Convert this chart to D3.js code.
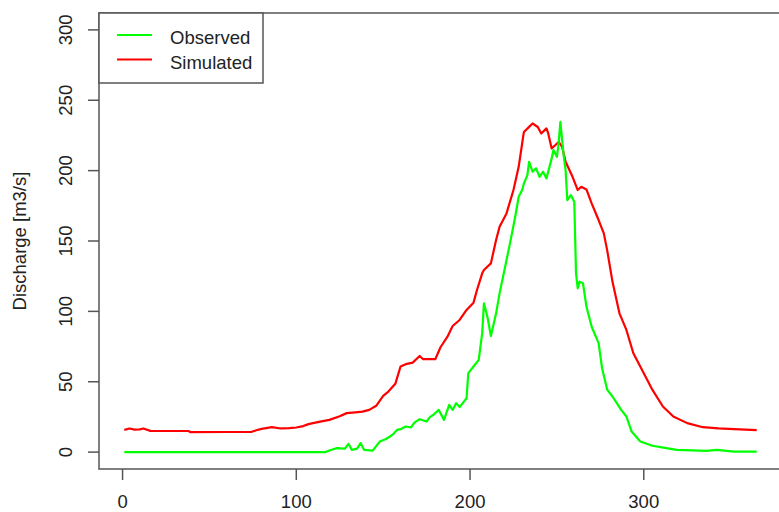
<!DOCTYPE html>
<html>
<head>
<meta charset="utf-8">
<script src="https://cdn.jsdelivr.net/npm/d3@7"></script>
<style>
  body { margin: 0; background: #fff; }
  svg { display: block; }
  text { font-family: "Liberation Sans", Arial, sans-serif; fill: #222; }
</style>
</head>
<body>
<div id="chart"></div>
<script>
// Daily discharge, day of year vs m3/s
const obsDay = [1, 117, 119, 123, 128, 130, 132, 135, 137, 139, 144, 148, 151, 154, 156, 158, 160, 163, 166, 168,
  171, 175, 177, 179, 182, 185, 188, 190, 192, 194, 196, 198, 199, 202, 205, 207, 208, 210, 212, 215,
  217, 219, 223, 226, 228, 230, 231, 233, 234, 236, 238, 240, 242, 244, 247, 248, 250, 251, 252, 253,
  254, 255, 256, 258, 260, 261, 262, 263, 265, 267, 270, 274, 276, 279, 282, 287, 290, 293, 298, 305,
  313, 319, 336, 342, 352, 365];
const obsQ = [0, 0, 1.1, 2.8, 2.5, 5.9, 1.6, 2.5, 6.4, 1.6, 1.1, 7.5, 9, 11.1, 13, 15.8, 16.3, 18.2, 17.5, 21,
  23.4, 21.7, 25, 26.5, 30, 22.9, 33.6, 30, 34.8, 32, 35.2, 38.3, 56.1, 60.8, 65.5, 84.5, 105.7, 96.2, 82.5, 98.6,
  112.8, 124.6, 148.3, 167.2, 181.4, 186.2, 190.9, 196.8, 206.3, 199.2, 201.6, 195.6, 199.2, 194.5, 208.7, 214.6, 209.8, 219.3, 234.6, 221.7,
  209.8, 200.4, 179, 182.6, 177.9, 127, 116.4, 121.1, 120, 103.4, 89.1, 77.4, 59.6, 44.2, 39.5, 30, 25.3, 14.6, 7.5, 4.5,
  2.8, 1.6, 0.9, 1.6, 0.4, 0.3];

const simDay = [1, 4, 7, 10, 12, 16, 25, 38, 39, 60, 74, 77, 80, 86, 91, 96, 100, 104, 107, 113,
  119, 125, 129, 134, 138, 142, 146, 150, 153, 157, 160, 163, 167, 171, 173, 180, 183, 187, 190, 194,
  198, 202, 204, 207, 208, 212, 215, 217, 221, 225, 228, 230, 231, 234, 236, 239, 241, 244, 245, 247,
  249, 251, 253, 255, 259, 262, 264, 267, 270, 274, 277, 279, 282, 286, 290, 294, 300, 305, 311, 317,
  325, 334, 343, 352, 365];
const simQ = [15.8, 16.8, 16, 16.2, 16.8, 15.1, 15, 15, 14.2, 14.3, 14.3, 15.5, 16.5, 17.7, 16.8, 17, 17.5, 18.5, 19.9, 21.5,
  22.9, 25.5, 27.7, 28.3, 28.8, 30, 32.9, 40, 43, 48.5, 60.8, 62.5, 63.6, 68.3, 66, 66, 74.5, 82, 89.6, 93.9,
  101, 106.2, 115.2, 127, 129.4, 134.1, 150.7, 160.1, 169.6, 186.2, 202.7, 219.3, 227.5, 231.1, 233.5, 231, 226.4, 230, 226.4, 215.8,
  218, 220.4, 216.9, 206.3, 195.6, 186.2, 188.5, 186.6, 176.7, 164.9, 155.4, 143, 121, 98.6, 86.8, 70.2, 56.1, 44.2, 32.4, 25.3,
  20.6, 17.7, 16.8, 16.3, 15.6];

const xTicks = [0, 100, 200, 300];
const yTicks = [0, 50, 100, 150, 200, 250, 300];
const seriesNames = ["Observed", "Simulated"];
const seriesColors = ["#00ff00", "#ff0000"];

const width = 779, height = 512;
const plotL = 99, plotT = 13, plotB = 469, plotR = 782;
const fs = "18.5px";
const axisCol = "#555";

const svg = d3.select("#chart").append("svg")
    .attr("width", width).attr("height", height);

// R-style 4% padding around the data range
const x = d3.scaleLinear().domain([1 - 14.56, 365 + 14.56]).range([plotL, plotR]);
const y = d3.scaleLinear().domain([-12, 312]).range([plotB, plotT]);

const line = d3.line().x(d => x(d[0])).y(d => y(d[1]));

svg.append("path")
    .datum(d3.zip(simDay, simQ))
    .attr("d", line).attr("fill", "none")
    .attr("stroke", seriesColors[1]).attr("stroke-width", 2.2)
    .attr("stroke-linejoin", "round");

svg.append("path")
    .datum(d3.zip(obsDay, obsQ))
    .attr("d", line).attr("fill", "none")
    .attr("stroke", seriesColors[0]).attr("stroke-width", 2.2)
    .attr("stroke-linejoin", "round");

// frame
svg.append("rect")
    .attr("x", plotL).attr("y", plotT)
    .attr("width", plotR - plotL).attr("height", plotB - plotT)
    .attr("fill", "none").attr("stroke", axisCol).attr("stroke-width", 1.5);

// y axis
svg.selectAll("line.ytick").data(yTicks).join("line").attr("class", "ytick")
    .attr("x1", plotL - 11).attr("x2", plotL)
    .attr("y1", d => y(d)).attr("y2", d => y(d))
    .attr("stroke", axisCol).attr("stroke-width", 1.5);
svg.selectAll("text.ylab").data(yTicks).join("text").attr("class", "ylab")
    .attr("transform", d => `translate(72,${y(d)}) rotate(-90)`)
    .attr("text-anchor", "middle")
    .style("font-size", fs)
    .text(d => d);

// x axis
svg.selectAll("line.xtick").data(xTicks).join("line").attr("class", "xtick")
    .attr("x1", d => x(d)).attr("x2", d => x(d))
    .attr("y1", plotB).attr("y2", plotB + 11)
    .attr("stroke", axisCol).attr("stroke-width", 1.5);
svg.selectAll("text.xlab").data(xTicks).join("text").attr("class", "xlab")
    .attr("x", d => x(d)).attr("y", 508)
    .attr("text-anchor", "middle")
    .style("font-size", fs)
    .text(d => d);

svg.append("text")
    .attr("transform", `translate(25.5,${(plotT + plotB) / 2}) rotate(-90)`)
    .attr("text-anchor", "middle")
    .style("font-size", fs)
    .text("Discharge [m3/s]");

// legend
const legend = svg.append("g");
legend.append("rect")
    .attr("x", plotL).attr("y", plotT).attr("width", 164).attr("height", 70)
    .attr("fill", "#fff").attr("stroke", axisCol).attr("stroke-width", 1.5);
seriesNames.forEach((name, i) => {
    const ly = 35 + i * 24.5;
    legend.append("line")
        .attr("x1", 117).attr("x2", 152).attr("y1", ly).attr("y2", ly)
        .attr("stroke", seriesColors[i]).attr("stroke-width", 2.2);
    legend.append("text")
        .attr("x", 170).attr("y", ly + 9)
        .style("font-size", fs)
        .text(name);
});
</script>
</body>
</html>
